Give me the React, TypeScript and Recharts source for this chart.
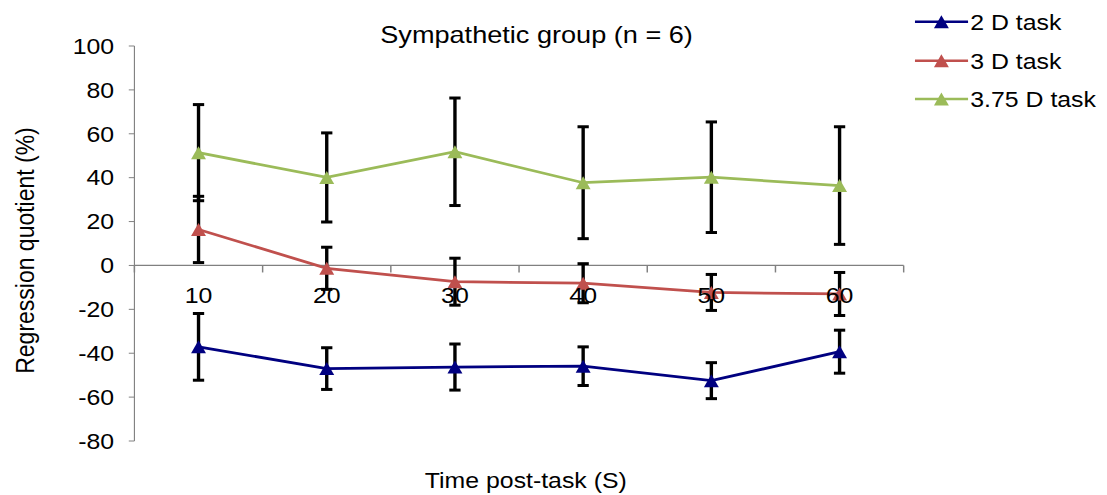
import { LineChart, Line, XAxis, YAxis, ErrorBar, ReferenceLine, ReferenceDot } from 'recharts';

// Regression quotient (%) per post-task time point, mean and error
const times = [10, 20, 30, 40, 50, 60];
const task2D = [-37.1, -47.0, -46.3, -45.9, -52.5, -39.3];
const task2DErr = [15.2, 9.5, 10.5, 8.8, 8.2, 9.8];
const task3D = [16.4, -1.3, -7.4, -8.1, -12.3, -13.0];
const task3DErr = [15.1, 9.6, 10.7, 8.9, 8.2, 9.8];
const task375D = [51.4, 40.1, 51.8, 37.7, 40.2, 36.4];
const task375DErr = [21.9, 20.3, 24.5, 25.5, 25.2, 26.8];

const yTicks = [-80, -60, -40, -20, 0, 20, 40, 60, 80, 100];
// tick marks on the zero line sit between the time points
const xBounds = [5, 15, 25, 35, 45, 55, 65];

const series = [
  { key: 'd2', err: 'd2Err', name: '2 D task', color: '#000080' },
  { key: 'd3', err: 'd3Err', name: '3 D task', color: '#C0504D' },
  { key: 'd375', err: 'd375Err', name: '3.75 D task', color: '#9BBB59' },
];

const data = times.map((t, i) => ({
  t,
  d2: task2D[i],
  d2Err: task2DErr[i],
  d3: task3D[i],
  d3Err: task3DErr[i],
  d375: task375D[i],
  d375Err: task375DErr[i],
}));

const W = 980;
const H = 495;
// the whole figure is drawn a bit wider than its native size
const STRETCH = 1107 / W;
const FONT = '"Liberation Sans", Arial, sans-serif';
const AXIS = '#808080';

function Triangle({ cx, cy, fill }: { cx?: number; cy?: number; fill: string }) {
  if (cx == null || cy == null) return null;
  return (
    <polygon
      points={`${cx},${cy - 6.5} ${cx - 6.6},${cy + 6.5} ${cx + 6.6},${cy + 6.5}`}
      fill={fill}
    />
  );
}

function LegendBox() {
  const rows = [21.7, 60.7, 99];
  return (
    <g fontFamily={FONT}>
      {series.map((s, i) => (
        <g key={s.key}>
          <line x1={810} x2={857} y1={rows[i]} y2={rows[i]} stroke={s.color} strokeWidth={2.5} />
          <Triangle cx={833.4} cy={rows[i]} fill={s.color} />
          <text x={859} y={rows[i] + 8} fontSize={22} fill="#000">
            {s.name}
          </text>
        </g>
      ))}
    </g>
  );
}

export default function App() {
  return (
    <div style={{ position: 'absolute', left: 0, top: 0, width: 1107, height: H, background: '#fff' }}>
      <div
        style={{
          position: 'relative',
          width: W,
          height: H,
          transform: `scaleX(${STRETCH})`,
          transformOrigin: '0 0',
          fontFamily: FONT,
        }}
      >
        <LineChart width={W} height={H} data={data} margin={{ top: 46, right: 180, bottom: 0, left: 0 }}>
          <XAxis
            dataKey="t"
            type="number"
            domain={[5, 65]}
            tick={false}
            axisLine={false}
            tickLine={false}
            height={54}
            label={{
              value: 'Time post-task (S)',
              position: 'insideBottom',
              offset: 7,
              dx: 6,
              fontSize: 22,
              fill: '#000',
            }}
          />
          <YAxis
            domain={[-80, 100]}
            ticks={yTicks}
            interval={0}
            width={119}
            stroke={AXIS}
            tickSize={5}
            tickMargin={13}
            tick={{ fill: '#000', fontSize: 22 }}
            label={{
              value: 'Regression quotient (%)',
              angle: -90,
              position: 'insideLeft',
              offset: 22,
              dy: 7,
              fontSize: 23,
              fill: '#000',
              style: { textAnchor: 'middle' },
            }}
          />

          {/* horizontal axis runs along zero */}
          <ReferenceLine y={0} stroke={AXIS} strokeWidth={1.3} />
          {xBounds.map((b) => (
            <ReferenceLine
              key={`tick-${b}`}
              segment={[
                { x: b, y: 0 },
                { x: b, y: -3.2 },
              ]}
              stroke={AXIS}
              strokeWidth={1.3}
            />
          ))}

          {series.map((s) => (
            <Line
              key={s.key}
              dataKey={s.key}
              name={s.name}
              type="linear"
              stroke={s.color}
              strokeWidth={2.75}
              dot={(p: any) => <Triangle key={`${s.key}-${p.index}`} cx={p.cx} cy={p.cy} fill={s.color} />}
              activeDot={false}
              isAnimationActive={false}
            >
              <ErrorBar dataKey={s.err} direction="y" width={5} stroke="#000" strokeWidth={3} />
            </Line>
          ))}

          {/* time labels sit just under the zero line */}
          {times.map((t) => (
            <ReferenceDot
              key={`lbl-${t}`}
              x={t}
              y={0}
              r={0}
              fill="none"
              stroke="none"
              label={{ value: String(t), position: 'bottom', offset: 22, fontSize: 22, fill: '#000' }}
            />
          ))}
        </LineChart>

        <svg
          width={W}
          height={H}
          style={{ position: 'absolute', left: 0, top: 0, pointerEvents: 'none' }}
        >
          <text x={475} y={43} textAnchor="middle" fontFamily={FONT} fontSize={24} fill="#000">
            Sympathetic group (n = 6)
          </text>
          <LegendBox />
        </svg>
      </div>
    </div>
  );
}
